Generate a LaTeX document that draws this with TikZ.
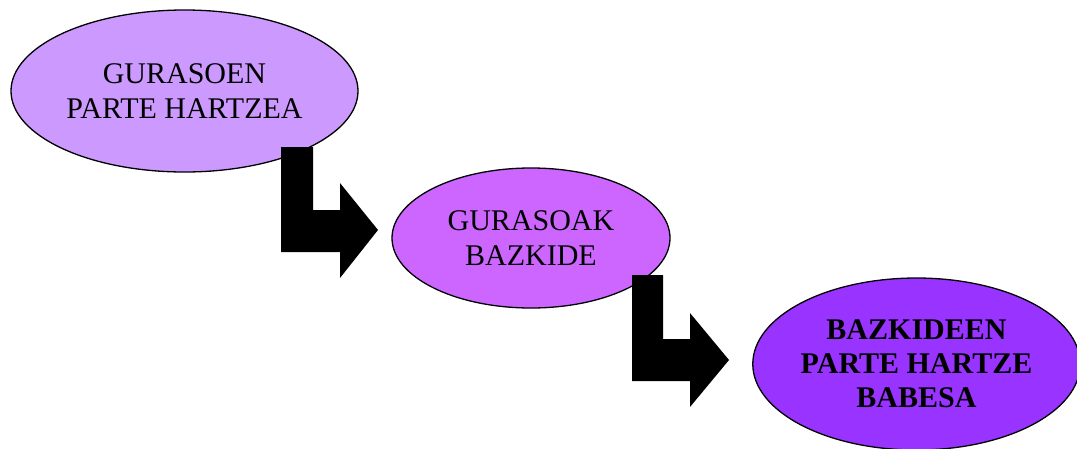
\documentclass[tikz,border=0pt]{standalone}
\usepackage{fontspec}
\setmainfont{Liberation Serif}
\usepackage{tikz}
\usetikzlibrary{
    shapes.geometric,
    positioning
}
\definecolor{lila1}{HTML}{CC99FF}
\definecolor{lila2}{HTML}{CC66FF}
\definecolor{lila3}{HTML}{9933FF}
\tikzset{
    oval/.style={ellipse, draw=black, line width=1.3pt, inner sep=0pt,
        align=center, font=\fontsize{30}{35}\selectfont},
    bentarrow/.style={fill=black}
}

\begin{document}
\begin{tikzpicture}[x=1pt, y=-1pt]
    \useasboundingbox (0, 0) rectangle (1077, 448);
    \node[oval, fill=lila1, minimum width=347, minimum height=162] (guraso) at (184.5, 91) {GURASOEN\\PARTE HARTZEA};
    \node[oval, fill=lila2, minimum width=278, minimum height=140] (bazkide) at (531, 238) {GURASOAK\\BAZKIDE};
    \node[oval, fill=lila3, minimum width=321, minimum height=172, font=\fontsize{30}{34}\selectfont\bfseries] (babesa) at (916.5, 364) {BAZKIDEEN\\PARTE HARTZE\\BABESA};
    % arrows
    \coordinate (g1) at (281, 147);
    \coordinate (g2) at (632, 275);
    \fill[bentarrow] (g1) -- ++(32, 0) -- ++(0, 63) -- ++(27, 0) -- ++(0, -27) -- ++(38, 47)
        -- ++(-38, 48) -- ++(0, -26) -- ++(-59, 0) -- cycle;
    \fill[bentarrow] (g2) -- ++(31, 0) -- ++(0, 64) -- ++(27, 0) -- ++(0, -26) -- ++(39, 47)
        -- ++(-39, 47) -- ++(0, -26) -- ++(-58, 0) -- cycle;
\end{tikzpicture}
\end{document}
